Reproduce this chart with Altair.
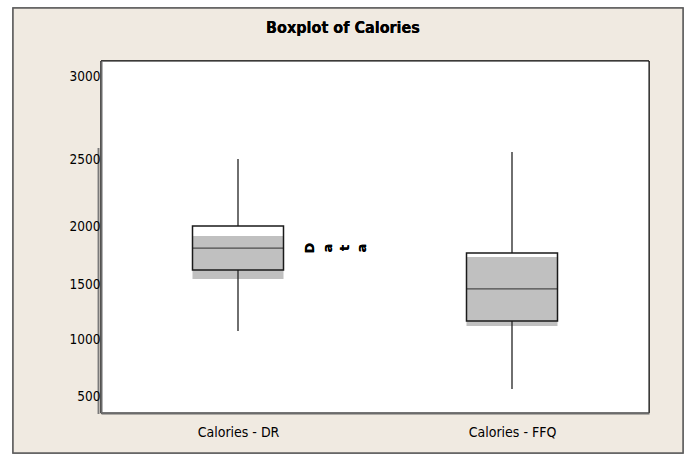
import altair as alt
import pandas as pd

# Box summaries for the two calorie measurements
categories = ["Calories - DR", "Calories - FFQ"]
whisker_low = [1073, 561]
q1 = [1621, 1164]
median = [1810, 1455]
q3 = [2000, 1767]
whisker_high = [2500, 2542]
# grey fill band drawn inside each box
shade_low = [1543, 1118]
shade_high = [1914, 1733]

y_ticks = [500, 1000, 1500, 2000, 2500, 3000]

df = pd.DataFrame({
    "category": categories,
    "whisker_low": whisker_low,
    "q1": q1,
    "median": median,
    "q3": q3,
    "whisker_high": whisker_high,
    "shade_low": shade_low,
    "shade_high": shade_high,
})

W, H = 548, 352
BOX_W = 91
FONT = "DejaVu Sans Condensed, DejaVu Sans, sans-serif"

# piecewise value axis: value stops and their pixel offsets from the top
y_scale = alt.Scale(
    domain=[351, 500, 1000, 1500, 2000, 2500, 3000, 3090],
    range=[352, 335, 278, 223, 165, 98, 15, 0],
    zero=False,
    nice=False,
)

x_enc = alt.X(
    "category:N",
    sort=categories,
    scale=alt.Scale(type="point", padding=0.5),
    axis=alt.Axis(
        title=None, labelAngle=0, ticks=False, labelPadding=12,
        labelFont=FONT, labelFontSize=14, labelColor="#000",
        domainColor="#6b6b6b", domainWidth=2, zindex=1,
    ),
)

y_axis = alt.Axis(
    title=None, values=y_ticks, format="d", ticks=False, grid=False,
    labelPadding=1, labelFont=FONT, labelFontSize=13.5, labelColor="#000",
    domainColor="#6b6b6b", domainWidth=2, zindex=1,
)

base = alt.Chart(df)

frame = base.mark_rect(fill="#F0EAE1", stroke="#5e5e5e", strokeWidth=1.5).encode(
    x=alt.value(-88), x2=alt.value(582), y=alt.value(-53), y2=alt.value(392)
)
plot_bg = base.mark_rect(fill="white", stroke="black", strokeWidth=1).encode(
    x=alt.value(0), x2=alt.value(W), y=alt.value(0), y2=alt.value(H)
)
left_edge = base.mark_rule(color="#7a7a7a", strokeWidth=1.5).encode(
    x=alt.value(-2.5), y=alt.value(87), y2=alt.value(353)
)

shade = base.mark_bar(size=BOX_W, color="#c0c0c0").encode(
    x=x_enc,
    y=alt.Y("shade_low:Q", scale=y_scale, axis=y_axis),
    y2="shade_high:Q",
)
upper_whisker = base.mark_rule(color="#222", strokeWidth=1.3).encode(
    x="category:N", y=alt.Y("q3:Q", scale=y_scale), y2="whisker_high:Q"
)
lower_whisker = base.mark_rule(color="#222", strokeWidth=1.3).encode(
    x="category:N", y=alt.Y("whisker_low:Q", scale=y_scale), y2="q1:Q"
)
box = base.mark_bar(size=BOX_W, fillOpacity=0, stroke="#1a1a1a", strokeWidth=1.5).encode(
    x="category:N", y=alt.Y("q1:Q", scale=y_scale), y2="q3:Q"
)
med = base.mark_tick(size=BOX_W, thickness=1.3, color="#1a1a1a", orient="horizontal").encode(
    x="category:N", y=alt.Y("median:Q", scale=y_scale)
)

# chart heading, centred over the framed panel
heading = base.mark_text(
    text="Boxplot of Calories", font=FONT, fontWeight="bold", fontSize=16,
    color="#000", align="center", baseline="middle",
).encode(x=alt.value(242), y=alt.value(-33))

# value-axis title, each letter turned on its side
letters = []
for ch, px in zip("Data", [209, 227, 244, 261]):
    letters.append(
        base.mark_text(
            text=ch, angle=270, font="DejaVu Sans", fontWeight="bold",
            fontSize=13, color="#000", align="center", baseline="middle",
        ).encode(x=alt.value(px), y=alt.value(187))
    )

chart = alt.layer(
    frame, plot_bg, left_edge, shade, upper_whisker, lower_whisker, box, med,
    heading, *letters
).properties(
    width=W,
    height=H,
    padding={"left": 101, "top": 61, "right": 39, "bottom": 41},
    autosize=alt.AutoSizeParams(type="none"),
    background="white",
).configure_view(stroke=None)

chart.save("out.html", embed_options={"renderer": "svg", "actions": False})
